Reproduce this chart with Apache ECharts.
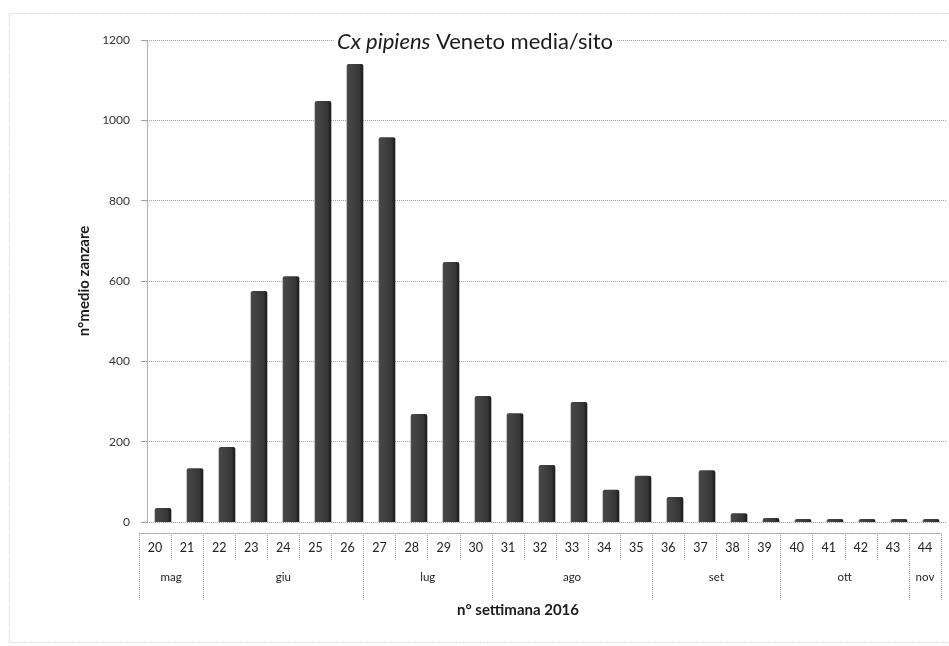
<!DOCTYPE html>
<html><head><meta charset="utf-8">
<script src="https://cdn.jsdelivr.net/npm/echarts@6/dist/echarts.min.js"></script>
<style>html,body{margin:0;padding:0;background:#fff}#c{width:949px;height:646px}</style>
</head><body><div id="c"></div>
<script>
// ---- data ----
const weeks = ['20','21','22','23','24','25','26','27','28','29','30','31','32','33','34','35','36','37','38','39','40','41','42','43','44'];
const values = [35,134,187,575,612,1048,1140,958,269,647,314,271,142,299,80,115,62,129,22,10,2,1,1,1,1];
const months = ['mag','giu','lug','ago','set','ott','nov'];
const monthFirstWeek = [20,22,27,31,36,40,44];
const monthLastWeek = [21,26,30,35,39,43,44];
const yMin = 0, yMax = 1200, yStep = 200;
const titleMain = 'Cx pipiens';
const titleRest = ' Veneto media/sito';
const yName = 'n°medio zanzare';
const xName = 'n° settimana 2016';

// derived month positions (in week-slot units)
const firstW = Number(weeks[0]);
const monthStart = monthFirstWeek.map(w => w - firstW);
const monthEnd = monthLastWeek.map(w => w - firstW + 1);
const monthCenters = monthStart.map((s, i) => (s + monthEnd[i]) / 2);
const monthBounds = monthStart.concat([weeks.length]);

const FONT = 'Lato, "Open Sans", sans-serif';
const GRID_C = '#a0a0a0';

const chart = echarts.init(document.getElementById('c'), null, {renderer: 'canvas'});
chart.setOption({
  backgroundColor: '#fff',
  animation: false,
  textStyle: {fontFamily: FONT},
  graphic: [{
    type: 'rect', silent: true, z: -1,
    shape: {x: 9.5, y: 13.5, width: 1000, height: 629},
    style: {fill: 'none', stroke: '#b5b5b5', lineWidth: 1, lineDash: [1, 2]}
  }],
  title: [{
    text: '{a|' + titleMain + '}{b|' + titleRest + '}',
    left: 472, top: 31, textAlign: 'center',
    backgroundColor: '#fff', padding: [0, 3],
    textStyle: {
      fontWeight: 'normal',
      rich: {
        a: {fontFamily: FONT, fontSize: 22, fontStyle: 'italic', fontWeight: 'normal', color: '#1a1a1a'},
        b: {fontFamily: FONT, fontSize: 22, fontWeight: 'normal', color: '#1a1a1a'}
      }
    }
  }, {
    text: xName, left: 518, top: 603, textAlign: 'center', padding: 0,
    textStyle: {fontFamily: FONT, fontSize: 15, fontWeight: 'bold', color: '#1a1a1a'}
  }],
  grid: [
    {left: 147, right: 2, top: 40, bottom: 124},
    {left: 139, right: 8, top: 100, bottom: 113},
    {left: 139, right: 8, top: 100, bottom: 113}
  ],
  xAxis: [{
    gridIndex: 0, type: 'category', data: weeks, boundaryGap: true,
    axisLine: {show: false}, axisTick: {show: false}, axisLabel: {show: false}
  }, {
    gridIndex: 1, type: 'category', data: weeks, boundaryGap: true, position: 'bottom',
    axisLine: {show: true, lineStyle: {color: GRID_C, type: 'dotted'}},
    axisTick: {show: true, interval: 0, length: 27, lineStyle: {color: GRID_C, type: 'dotted'}},
    axisLabel: {interval: 0, margin: 8, fontSize: 12.5, color: '#222', fontFamily: FONT}
  }, {
    gridIndex: 2, type: 'value', min: 0, max: weeks.length, position: 'bottom',
    axisLine: {show: false}, splitLine: {show: false},
    axisTick: {show: true, customValues: monthBounds, length: 67, lineStyle: {color: GRID_C, type: 'dotted'}},
    axisLabel: {customValues: monthCenters, margin: 38, fontSize: 11.5, color: '#222', fontFamily: FONT,
      formatter: v => { const i = monthCenters.indexOf(v); return i >= 0 ? months[i] : ''; }}
  }],
  yAxis: [{
    gridIndex: 0, type: 'value', min: yMin, max: yMax, interval: yStep,
    name: yName, nameLocation: 'middle', nameGap: 52, nameRotate: 90,
    nameTextStyle: {fontFamily: FONT, fontSize: 15, fontWeight: 'bold', color: '#1a1a1a'},
    axisLine: {show: true, lineStyle: {color: GRID_C, type: 'dotted'}},
    axisTick: {show: true, length: 6, lineStyle: {color: GRID_C}},
    axisLabel: {margin: 17, fontSize: 12, color: '#333', fontFamily: FONT, formatter: v => String(v)},
    splitLine: {show: true, lineStyle: {color: GRID_C, type: 'dotted'}}
  }, {gridIndex: 1, show: false}, {gridIndex: 2, show: false}],
  series: [{
    type: 'bar', xAxisIndex: 0, yAxisIndex: 0, data: values,
    barWidth: '52%', barMinHeight: 3,
    itemStyle: {
      color: new echarts.graphic.LinearGradient(0, 0, 1, 0, [
        {offset: 0, color: '#4a4a4a'}, {offset: 0.75, color: '#363636'}, {offset: 1, color: '#1a1a1a'}
      ]),
      borderRadius: [2, 2, 0, 0]
    }
  }]
});
</script></body></html>
